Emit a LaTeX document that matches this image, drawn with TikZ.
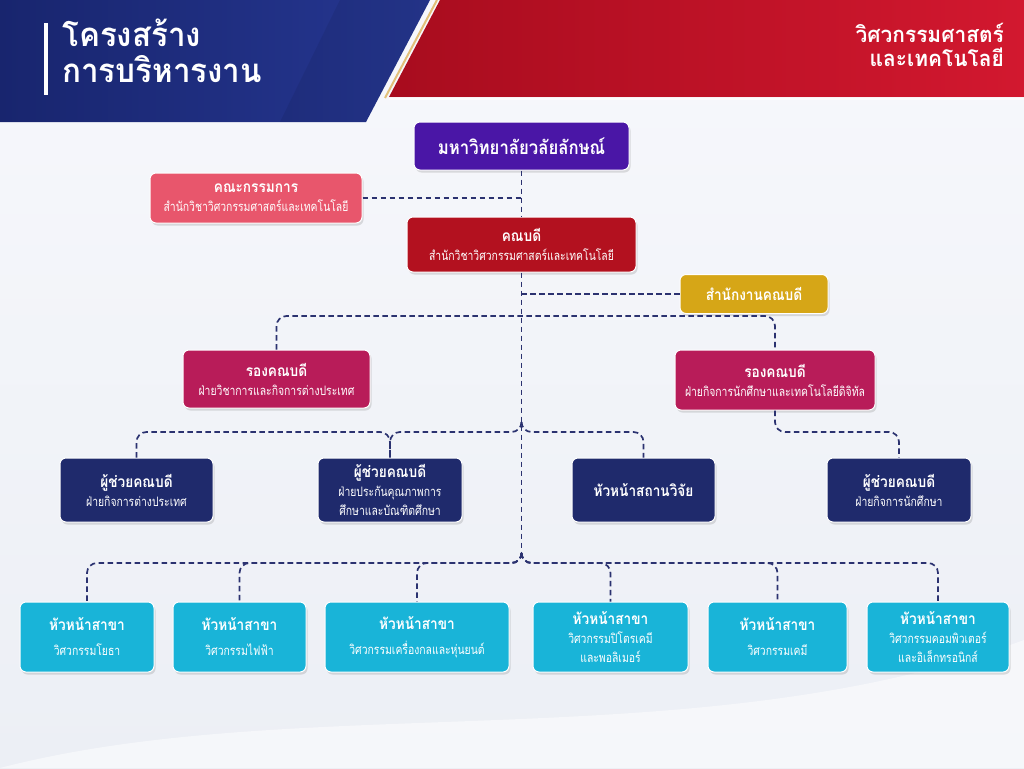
\documentclass[tikz,border=0pt]{standalone}
\usepackage{fontspec}
\setmainfont[Script=Thai, FakeStretch=0.88]{Loma}
\newfontfamily\hdrfont[Script=Thai, FakeStretch=0.95]{Loma}
\newfontfamily\subfont[Script=Thai, FakeStretch=0.8]{Loma}
\usetikzlibrary{shadows,calc}
\definecolor{bgA}{HTML}{F7F8FC}
\definecolor{bgB}{HTML}{ECEFF5}
\definecolor{hdrBlueA}{HTML}{18256E}
\definecolor{hdrBlueB}{HTML}{263792}
\definecolor{hdrRedA}{HTML}{A80C1E}
\definecolor{hdrRedB}{HTML}{D2182F}
\definecolor{goldLine}{HTML}{E2C07A}
\definecolor{purpleC}{HTML}{4A16A6}
\definecolor{coralC}{HTML}{E8566C}
\definecolor{deanC}{HTML}{B3111F}
\definecolor{goldC}{HTML}{D6A617}
\definecolor{magC}{HTML}{B81C59}
\definecolor{navyC}{HTML}{1F2A6C}
\definecolor{cyanC}{HTML}{19B4D8}
\definecolor{lineC}{HTML}{2B3270}
\tikzset{
  box/.style={rounded corners=6pt, inner sep=0pt, align=center, text=white,
    draw=white, line width=1pt, font=\fontsize{12}{19}\selectfont,
    drop shadow={opacity=0.25, shadow xshift=1.5pt, shadow yshift=-2.5pt}},
  conn/.style={draw=lineC, line width=1.7pt, dash pattern=on 5.5pt off 3.5pt, rounded corners=10pt},
  hdr/.style={text=white, inner sep=0pt}
}
\newcommand\bxt[1]{{\fontsize{15.5}{19}\selectfont\bfseries #1}}
\newcommand\bxs[1]{{\subfont\fontsize{13}{19}\selectfont #1}}
\begin{document}
\begin{tikzpicture}[x=1pt,y=-1pt]
\useasboundingbox (0,0) rectangle (1024,768);
% background
\shade[top color=bgA, bottom color=bgB] (0,0) rectangle (1024,768);
\fill[white, opacity=0.5] (0,768) .. controls (300,690) and (700,760) .. (1024,640) -- (1024,768) -- cycle;
% header bands
\shade[left color=hdrRedA, right color=hdrRedB] (440,0) -- (1024,0) -- (1024,97) -- (389,97) -- cycle;
\fill[white, opacity=0.7] (389,97) rectangle (1024,100);
\draw[goldLine, line width=2pt] (437,0) -- (385,98);
\shade[left color=hdrBlueA, right color=hdrBlueB] (0,0) -- (430,0) -- (366,122) -- (0,122) -- cycle;
\fill[black, opacity=0.07] (340,0) -- (430,0) -- (366,122) -- (280,122) -- cycle;
\fill[white] (44,23) rectangle (48,95);
\node[hdr, anchor=north west, align=left, font=\hdrfont\fontsize{33}{36}\selectfont\bfseries] (title) at (62,19) {โครงสร้าง\\การบริหารงาน};
\node[hdr, anchor=north east, align=right, font=\hdrfont\fontsize{22}{24}\selectfont\bfseries] (fac) at (1004,23) {วิศวกรรมศาสตร์\\และเทคโนโลยี};
% top level
\node[box, fill=purpleC, minimum width=215pt, minimum height=48pt, font=\fontsize{19}{22}\selectfont\bfseries] (uni) at (521.5,146) {มหาวิทยาลัยวลัยลักษณ์};
\node[box, fill=coralC, minimum width=212pt, minimum height=50pt] (comm) at (256,198) {\bxt{คณะกรรมการ}\\\bxs{สำนักวิชาวิศวกรรมศาสตร์และเทคโนโลยี}};
\node[box, fill=deanC, minimum width=229pt, minimum height=55pt] (dean) at (521.5,244.5) {\bxt{คณบดี}\\\bxs{สำนักวิชาวิศวกรรมศาสตร์และเทคโนโลยี}};
\node[box, fill=goldC, minimum width=148pt, minimum height=39pt, font=\fontsize{15.5}{19}\selectfont\bfseries] (office) at (754,294) {สำนักงานคณบดี};
% vice deans
\node[box, fill=magC, minimum width=187pt, minimum height=58pt] (vdL) at (276.5,379) {\bxt{รองคณบดี}\\\bxs{ฝ่ายวิชาการและกิจการต่างประเทศ}};
\node[box, fill=magC, minimum width=200pt, minimum height=60pt] (vdR) at (775,380) {\bxt{รองคณบดี}\\\bxs{ฝ่ายกิจการนักศึกษาและเทคโนโลยีดิจิทัล}};
% assistants
\node[box, fill=navyC, minimum width=153pt, minimum height=64pt] (as1) at (136.5,490) {\bxt{ผู้ช่วยคณบดี}\\\bxs{ฝ่ายกิจการต่างประเทศ}};
\node[box, fill=navyC, minimum width=144pt, minimum height=64pt] (as2) at (390,490) {\bxt{ผู้ช่วยคณบดี}\\\bxs{ฝ่ายประกันคุณภาพการ}\\\bxs{ศึกษาและบัณฑิตศึกษา}};
\node[box, fill=navyC, minimum width=143pt, minimum height=64pt, font=\fontsize{15.5}{19}\selectfont\bfseries] (as3) at (643.5,490) {หัวหน้าสถานวิจัย};
\node[box, fill=navyC, minimum width=144pt, minimum height=64pt] (as4) at (899,490) {\bxt{ผู้ช่วยคณบดี}\\\bxs{ฝ่ายกิจการนักศึกษา}};
% programme heads
\node[box, fill=cyanC, minimum width=134pt, minimum height=70pt] (b1) at (87,637) {\bxt{หัวหน้าสาขา}\\[6pt]\bxs{วิศวกรรมโยธา}};
\node[box, fill=cyanC, minimum width=133pt, minimum height=70pt] (b2) at (239.5,637) {\bxt{หัวหน้าสาขา}\\[6pt]\bxs{วิศวกรรมไฟฟ้า}};
\node[box, fill=cyanC, minimum width=184pt, minimum height=70pt] (b3) at (417,637) {\bxt{หัวหน้าสาขา}\\[6pt]\bxs{วิศวกรรมเครื่องกลและหุ่นยนต์}};
\node[box, fill=cyanC, minimum width=155pt, minimum height=70pt] (b4) at (610.5,637) {\bxt{หัวหน้าสาขา}\\\bxs{วิศวกรรมปิโตรเคมี}\\\bxs{และพอลิเมอร์}};
\node[box, fill=cyanC, minimum width=139pt, minimum height=70pt] (b5) at (777.5,637) {\bxt{หัวหน้าสาขา}\\[6pt]\bxs{วิศวกรรมเคมี}};
\node[box, fill=cyanC, minimum width=142pt, minimum height=70pt] (b6) at (938,637) {\bxt{หัวหน้าสาขา}\\\bxs{วิศวกรรมคอมพิวเตอร์}\\\bxs{และอิเล็กทรอนิกส์}};
% junction coordinates
\coordinate (busV) at (521.5,316);
\coordinate (jA) at (521.5,422);
\coordinate (busA) at (521.5,432);
\coordinate (jB) at (521.5,553);
\coordinate (busB) at (521.5,563);
% connectors
\draw[conn] (uni.south) -- (dean.north);
\draw[conn] (comm.east) -- (comm.east -| uni.south);
\draw[conn] (dean.south) -- (jB);
\draw[conn] (office.west) -- (office.west -| dean.south);
\draw[conn] (vdL.north) |- (busV) -| (vdR.north);
\draw[conn] (jA) -- (busA) -| (as2.north);
\draw[conn] (jA) -- (busA) -| (as3.north);
\draw[conn] (as1.north) |- (as2.north |- busA) -- (as2.north);
\draw[conn] (vdR.south) |- (as4.north |- busA) -- (as4.north);
\foreach \b in {b1,b2,b3,b4,b5,b6}{
  \draw[conn] (jB) -- (busB) -| (\b.north);
}
\end{tikzpicture}
\end{document}
